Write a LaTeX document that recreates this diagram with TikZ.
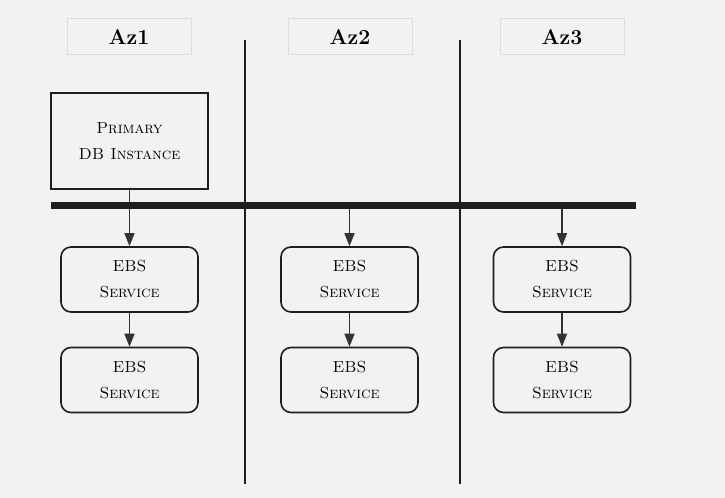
\documentclass[tikz,border=0pt]{standalone}
\usepackage{fontspec}
\usepackage{tikz}
\usetikzlibrary{arrows.meta}

\begin{document}
\begin{tikzpicture}[x=0.75pt,y=0.75pt,yscale=-1,xscale=1,
  azhead/.style={draw={rgb, 255:red, 220; green, 220; blue, 220 },line width=0.75,minimum width=93pt,minimum height=27pt,inner sep=0.75pt,font=\fontsize{16}{16}\selectfont\bfseries\scshape},
  dbbox/.style={draw={rgb, 255:red, 30; green, 30; blue, 30 },line width=1.5,minimum width=117.75pt,minimum height=72pt,align=center,font=\fontsize{12}{20}\selectfont\scshape},
  ebsbox/.style={draw={rgb, 255:red, 30; green, 30; blue, 30 },line width=1.2,rounded corners=7.5pt,minimum width=102.75pt,minimum height=48.75pt,align=center,font=\fontsize{12}{19.5}\selectfont\scshape},
  azline/.style={draw={rgb, 255:red, 30; green, 30; blue, 30 },line width=1.1},
  flow/.style={draw={rgb, 255:red, 51; green, 51; blue, 51 },line width=1.1,-{Triangle[length=9.75pt,width=7.5pt]}}
]
%Background
\useasboundingbox (0,0) rectangle (725,498);
\fill [color={rgb, 255:red, 242; green, 242; blue, 242 }] (0,0) rectangle (725,498);
% Text Node
\node (az1) at (129,37) [azhead] {Az1};
% Text Node
\node (az2) at (350,37) [azhead] {Az2};
% Text Node
\node (az3) at (562,37) [azhead] {Az3};
%Straight Lines
\draw [azline] (245,40) -- (245,484) ;
%Straight Lines
\draw [azline] (460,40) -- (460,484) ;
%Shape: Rectangle
\node (prim) at (129.5,141) [dbbox] {Primary\\DB Instance};
%Shape: Rounded Rect
\node (ebs1a) at (129.5,279.5) [ebsbox] {EBS\\Service};
\node (ebs1b) at (129.5,380) [ebsbox] {EBS\\Service};
\node (ebs2a) at (349.5,279.5) [ebsbox] {EBS\\Service};
\node (ebs2b) at (349.5,380) [ebsbox] {EBS\\Service};
\node (ebs3a) at (562,279.5) [ebsbox] {EBS\\Service};
\node (ebs3b) at (562,380) [ebsbox] {EBS\\Service};
%Straight Lines
\draw [flow] (prim) -- (ebs1a) ;
%Straight Lines
\draw [line width=5.25,color={rgb, 255:red, 30; green, 30; blue, 30 }] (51,206) -- (636,206) ;
\coordinate (bus2) at (349.5,209) ;
\coordinate (bus3) at (562,209) ;
%Straight Lines
\draw [flow] (bus2) -- (ebs2a) ;
\draw [flow] (bus3) -- (ebs3a) ;
\draw [flow] (ebs1a) -- (ebs1b) ;
\draw [flow] (ebs2a) -- (ebs2b) ;
\draw [flow] (ebs3a) -- (ebs3b) ;
\end{tikzpicture}
\end{document}
